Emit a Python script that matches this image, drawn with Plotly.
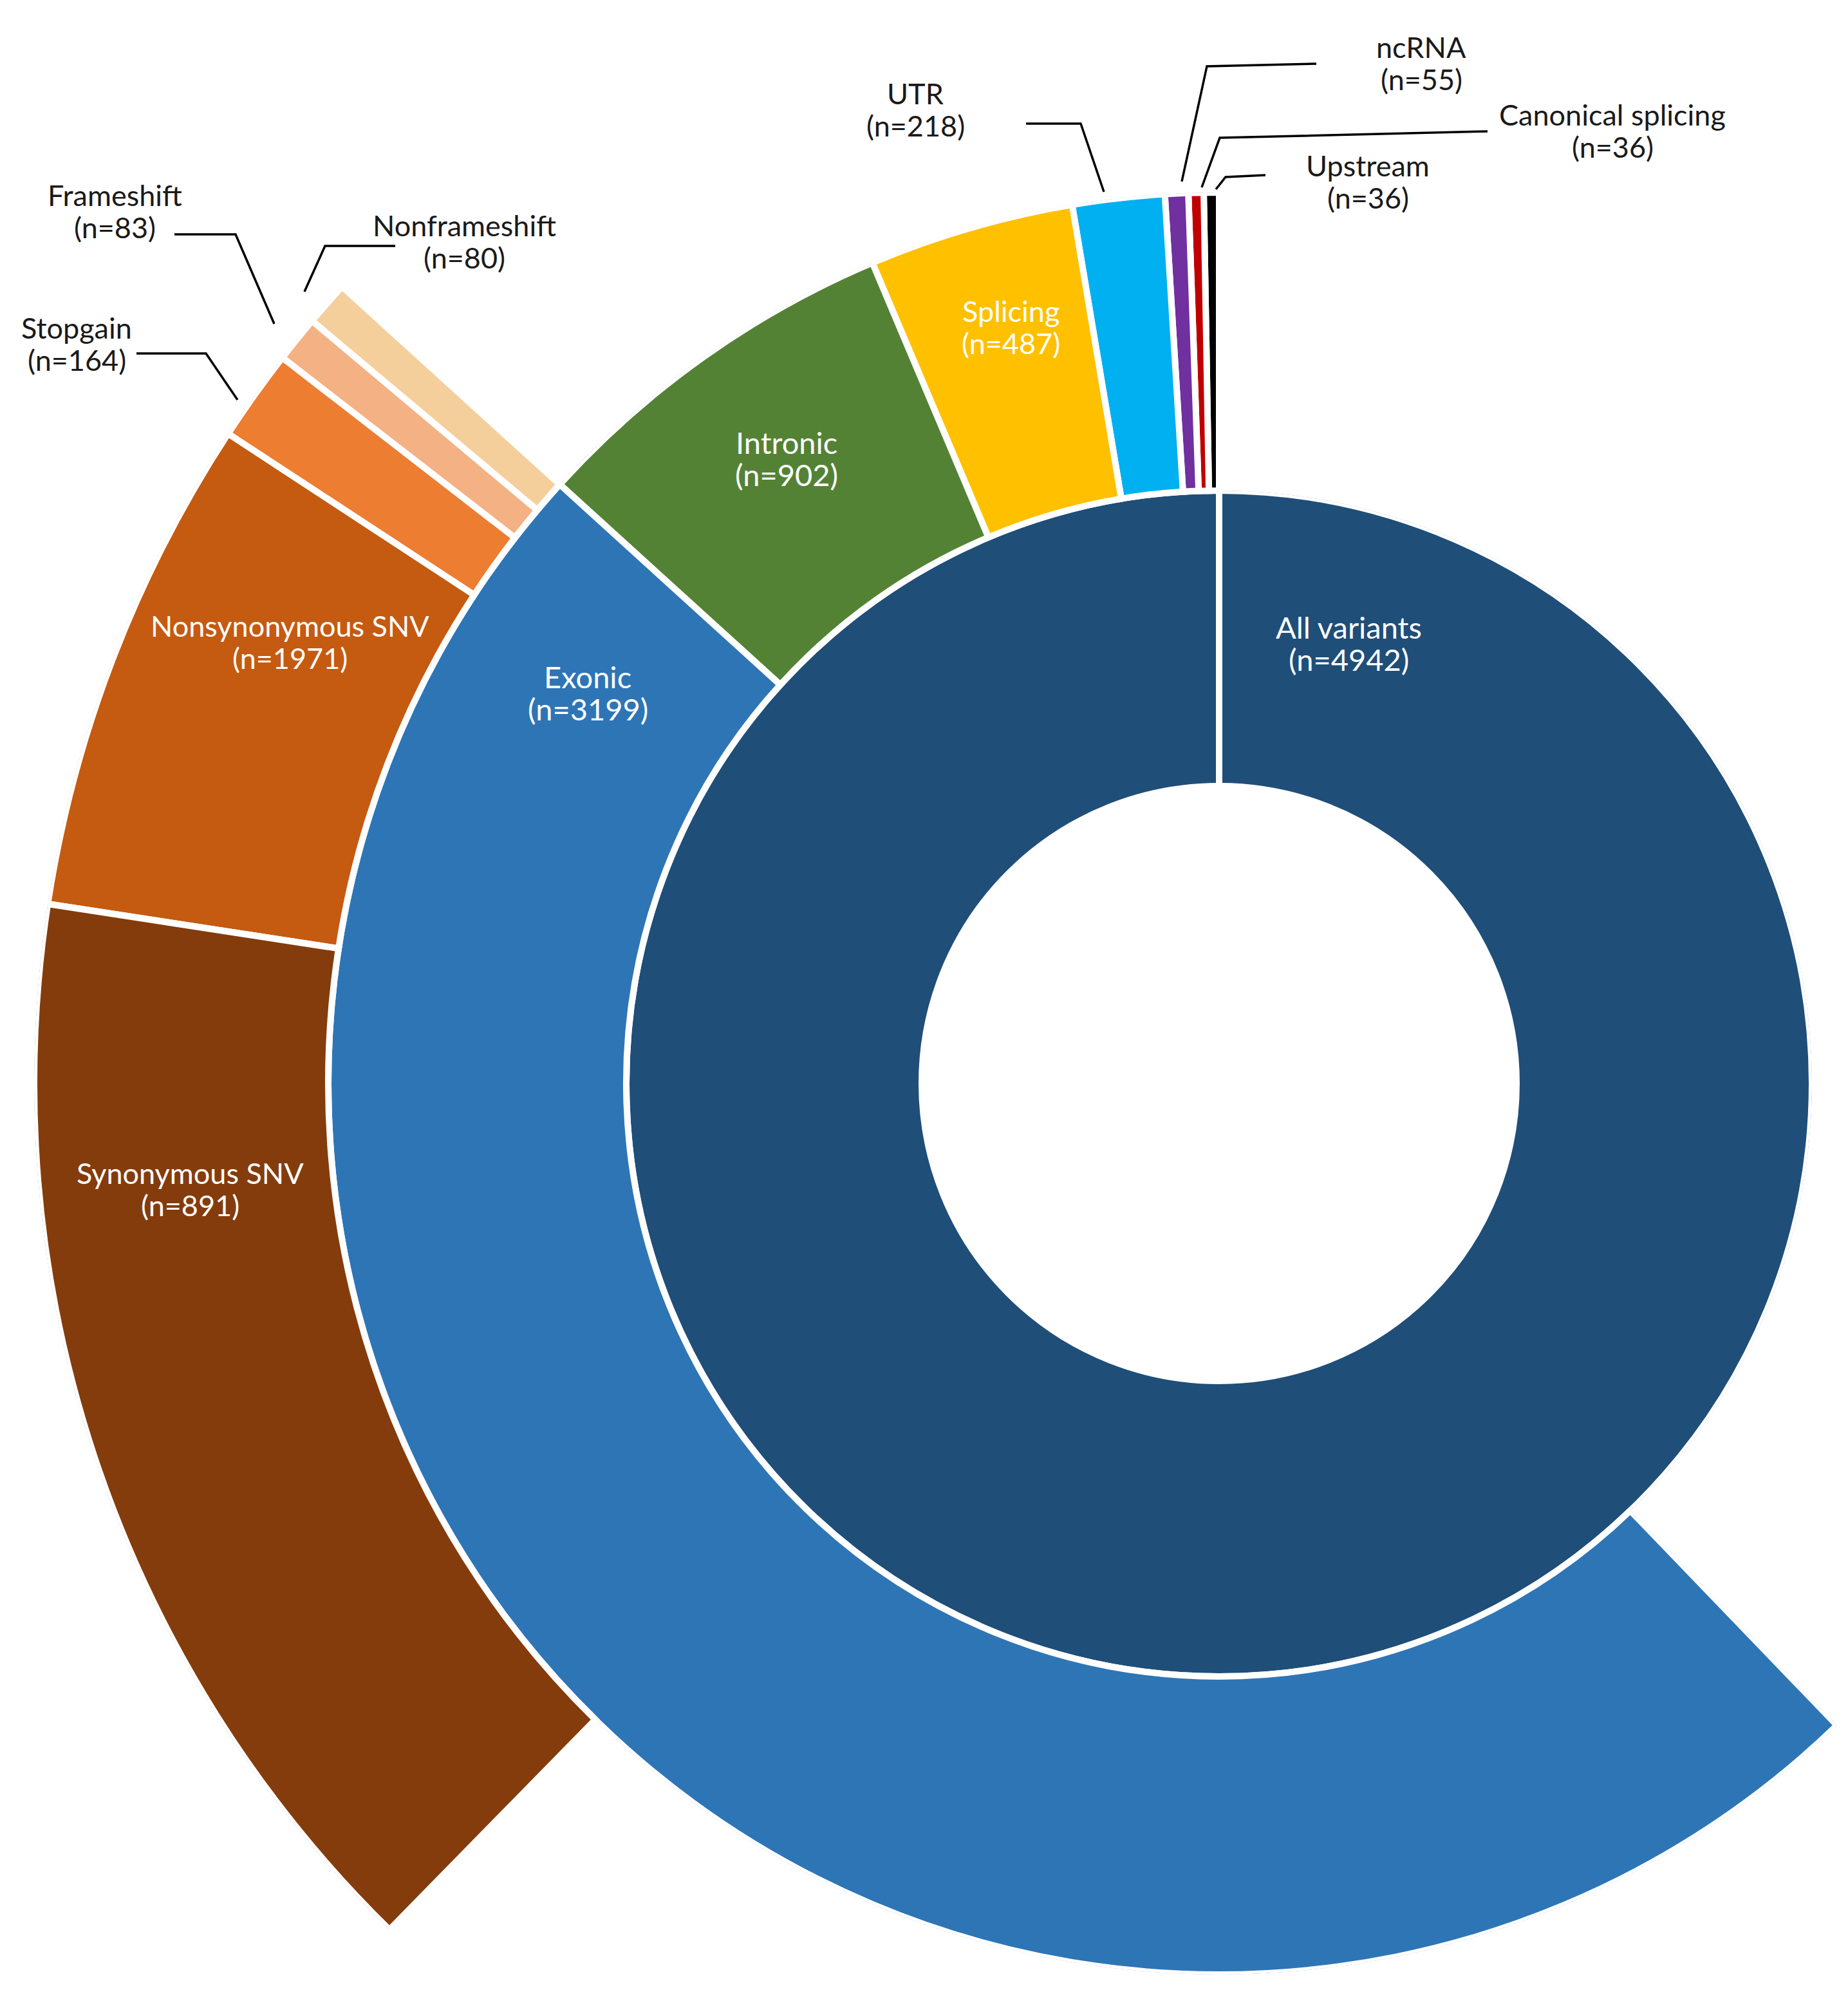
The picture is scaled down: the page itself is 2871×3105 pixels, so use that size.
import math
import plotly.graph_objects as go

# ---- data ----
all_label = "All variants"
all_n = 4942

# middle ring, counter-clockwise from 12 o'clock
middle_labels = ["Upstream", "Canonical splicing", "ncRNA", "UTR", "Splicing", "Intronic", "Exonic"]
middle_n = [36, 36, 55, 218, 487, 902, 3199]
# arc sizes as drawn (the exonic slice is drawn twice as wide as its count)
middle_arc = [36, 36, 55, 218, 487, 902, 6398]

# outer ring, continues from where the exonic slice begins
outer_labels = ["Nonframeshift", "Frameshift", "Stopgain", "Nonsynonymous SNV", "Synonymous SNV"]
outer_n = [80, 83, 164, 1971, 891]
# arc sizes as drawn (the two SNV arcs are swapped against their labels)
outer_arc = [80, 83, 164, 891, 1971]

# counts that make up a full turn for the two partial rings
FULL_TURN = 13074

all_color = "#1F4E79"
middle_colors = ["#000000", "#C00000", "#7030A0", "#00B0F0", "#FFC000", "#548235", "#2E75B6"]
outer_colors = ["#F5CF9B", "#F4B183", "#ED7D31", "#C55A11", "#843C0C"]

# ---- geometry (reference pixels) ----
W, H = 2855, 3089
OFF = 8                      # page margin of the html body
CX, CY = 1894, 1683
R_HOLE, R_INNER, R_MIDDLE, R_OUTER = 462, 921, 1384, 1841
GAP = 10

LABEL_XY = {
    "All variants": (2095, 974),
    "Exonic": (913, 1051),
    "Intronic": (1222, 687),
    "Splicing": (1570, 483),
    "UTR": (1422, 145),
    "ncRNA": (2208, 73),
    "Canonical splicing": (2505, 178),
    "Upstream": (2125, 257),
    "Nonframeshift": (721, 350),
    "Frameshift": (178, 303),
    "Stopgain": (119, 509),
    "Nonsynonymous SNV": (451, 972),
    "Synonymous SNV": (295, 1822),
}
INSIDE = {"All variants", "Exonic", "Intronic", "Splicing", "Nonsynonymous SNV", "Synonymous SNV"}
BIGGER = {"All variants", "Exonic", "Intronic"}
LINE_GAP = 50

LEADERS = {
    "Frameshift": [(271, 364), (366, 364), (426, 503)],
    "Nonframeshift": [(614, 382), (505, 382), (473, 453)],
    "Stopgain": [(212, 549), (320, 549), (369, 621)],
    "UTR": [(1594, 192), (1679, 192), (1715, 298)],
    "ncRNA": [(2045, 99), (1875, 103), (1836, 282)],
    "Canonical splicing": [(2311, 204), (1895, 214), (1867, 291)],
    "Upstream": [(1966, 272), (1904, 275), (1889, 294)],
}


def paper(x, y):
    return (x - OFF) / W, 1 - (y - OFF) / H


def sector_bbox(s0, s1):
    # same rule plotly.js uses to fit a polar sector in its domain
    a0 = s0 % 360
    a1 = a0 + (s1 - s0)
    ax0, ay0 = math.cos(math.radians(a0)), math.sin(math.radians(a0))
    ax1, ay1 = math.cos(math.radians(a1)), math.sin(math.radians(a1))
    if (a0 <= 90 <= a1) or (a0 > 90 and a1 >= 450):
        y1 = 1
    elif ay0 <= 0 and ay1 <= 0:
        y1 = 0
    else:
        y1 = max(ay0, ay1)
    if (a0 <= 180 <= a1) or (a0 > 180 and a1 >= 540):
        x0 = -1
    elif ax0 >= 0 and ax1 >= 0:
        x0 = 0
    else:
        x0 = min(ax0, ax1)
    if (a0 <= 270 <= a1) or (a0 > 270 and a1 >= 630):
        y0 = -1
    elif ay0 >= 0 and ay1 >= 0:
        y0 = 0
    else:
        y0 = min(ay0, ay1)
    if a1 >= 360:
        x1 = 1
    elif ax0 <= 0 and ax1 <= 0:
        x1 = 0
    else:
        x1 = max(ax0, ax1)
    return x0, y0, x1, y1


def polar_box(radius, sector):
    x0, y0, x1, y1 = sector_bbox(*sector)
    left, top = paper(CX + x0 * radius, CY - y1 * radius)
    right, bottom = paper(CX + x1 * radius, CY - y0 * radius)
    clamp = lambda v: min(max(v, 0), 1)
    return dict(
        domain=dict(x=[clamp(left), clamp(right)], y=[clamp(bottom), clamp(top)]),
        sector=list(sector),
        bgcolor="rgba(0,0,0,0)",
        radialaxis=dict(visible=False, range=[0, radius]),
        angularaxis=dict(visible=False, rotation=90, direction="counterclockwise"),
    )


def stack(arcs, start=0.0):
    thetas, widths = [], []
    pos = start
    for a in arcs:
        w = 360 * a / FULL_TURN
        thetas.append(pos + w / 2)
        widths.append(w)
        pos += w
    return thetas, widths, pos


mid_theta, mid_width, mid_end = stack(middle_arc)
outer_start = 360 * sum(middle_arc[:-1]) / FULL_TURN
out_theta, out_width, out_end = stack(outer_arc, outer_start)

fig = go.Figure()

# inner ring
fig.add_trace(go.Barpolar(
    r=[R_INNER - R_HOLE], base=[R_HOLE], theta=[180], width=[360 * all_n / all_n],
    marker=dict(color=all_color, line=dict(color="white", width=GAP)),
    hoverinfo="skip", subplot="polar",
))
# slice edge of the single inner slice at 12 o'clock
fig.add_trace(go.Scatterpolar(
    r=[R_HOLE, R_INNER], theta=[0, 0], mode="lines",
    line=dict(color="white", width=GAP), hoverinfo="skip", subplot="polar",
))

fig.add_trace(go.Barpolar(
    r=[R_MIDDLE - R_INNER] * len(middle_arc), base=[R_INNER] * len(middle_arc),
    theta=mid_theta, width=mid_width,
    marker=dict(color=middle_colors, line=dict(color="white", width=GAP)),
    hoverinfo="skip", subplot="polar2",
))

fig.add_trace(go.Barpolar(
    r=[R_OUTER - R_MIDDLE] * len(outer_arc), base=[R_MIDDLE] * len(outer_arc),
    theta=out_theta, width=out_width,
    marker=dict(color=outer_colors, line=dict(color="white", width=GAP)),
    hoverinfo="skip", subplot="polar3",
))

annotations = []
names = [all_label] + middle_labels + outer_labels
counts = [all_n] + middle_n + outer_n
for name, n in zip(names, counts):
    x, y = LABEL_XY[name]
    color = "white" if name in INSIDE else "#1a1a1a"
    size = 47 if name in BIGGER else 45
    for i, line in enumerate([name, f"(n={n})"]):
        px, py = paper(x, y + i * LINE_GAP)
        annotations.append(dict(
            x=px, y=py, xref="paper", yref="paper", text=line, showarrow=False,
            xanchor="center", yanchor="middle",
            font=dict(family="Lato", size=size, color=color),
        ))

shapes = []
for pts in LEADERS.values():
    path = ""
    for i, (x, y) in enumerate(pts):
        px, py = paper(x, y)
        path += ("M" if i == 0 else " L") + f" {px:.5f} {py:.5f}"
    shapes.append(dict(type="path", path=path, xref="paper", yref="paper",
                       line=dict(color="#000000", width=3.5)))

fig.update_layout(
    width=W, height=H,
    margin=dict(l=0, r=0, t=0, b=0),
    paper_bgcolor="white", plot_bgcolor="white",
    showlegend=False,
    polar=polar_box(R_INNER, (0, 360)),
    polar2=polar_box(R_MIDDLE, (89, 90 + mid_end)),
    polar3=polar_box(R_OUTER, (90 + outer_start - 1, 90 + out_end + 1)),
    annotations=annotations,
    shapes=shapes,
)

fig.write_html("out.html")
